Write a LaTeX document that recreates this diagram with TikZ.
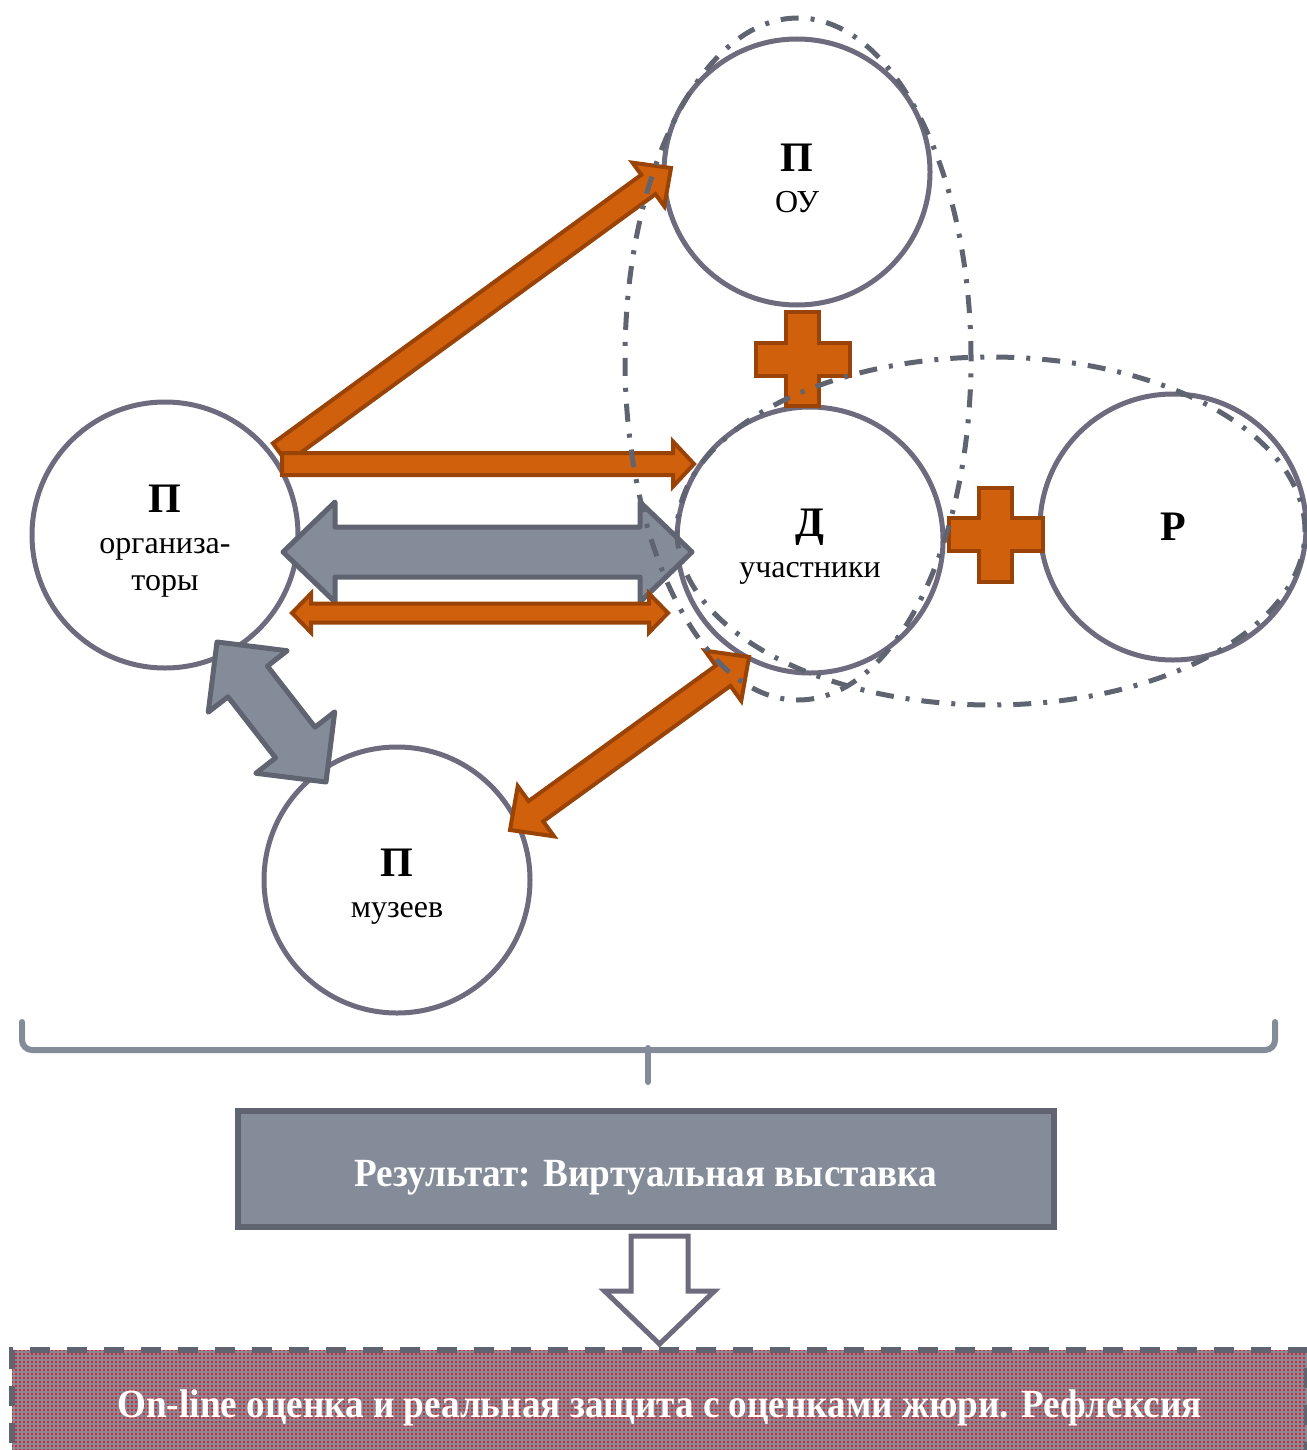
\documentclass[tikz,border=0pt]{standalone}
\usepackage{fontspec}
\setmainfont{Liberation Serif}
\usetikzlibrary{calc,patterns.meta}

\definecolor{circline}{HTML}{6E6B7E}
\definecolor{orfill}{HTML}{D0600C}
\definecolor{ordraw}{HTML}{9A4306}
\definecolor{grfill}{HTML}{848C9A}
\definecolor{grdraw}{HTML}{5F6470}

% big bold letter in a circle
\newcommand{\bigL}[1]{\rule{0pt}{20pt}{\fontsize{21}{24}\selectfont\bfseries #1}}
% fat arrow: style, from, to, half shaft, half head, head length
\newcommand{\fatarrow}[6]{%
  \draw[#1] ($(#2)!#4!90:(#3)$) -- ($(#3)!#6!(#2)!#4!-90:(#2)$) -- ($(#3)!#6!(#2)!#5!-90:(#2)$) -- (#3)
    -- ($(#3)!#6!(#2)!#5!90:(#2)$) -- ($(#3)!#6!(#2)!#4!90:(#2)$) -- ($(#2)!#4!-90:(#3)$) -- cycle;}
% fat double arrow: style, from, to, half shaft, half head, head length
\newcommand{\dblarrow}[6]{%
  \draw[#1] (#2) -- ($(#2)!#6!(#3)!#5!90:(#3)$) -- ($(#2)!#6!(#3)!#4!90:(#3)$)
    -- ($(#3)!#6!(#2)!#4!-90:(#2)$) -- ($(#3)!#6!(#2)!#5!-90:(#2)$) -- (#3)
    -- ($(#3)!#6!(#2)!#5!90:(#2)$) -- ($(#3)!#6!(#2)!#4!90:(#2)$)
    -- ($(#2)!#6!(#3)!#4!-90:(#3)$) -- ($(#2)!#6!(#3)!#5!-90:(#3)$) -- cycle;}
% plus sign
\newcommand{\plusmark}[1]{%
  \draw[plusst,shift={(#1)}] (-16.5,-47) -- (16.5,-47) -- (16.5,-16.5) -- (47,-16.5) -- (47,16.5) -- (16.5,16.5)
    -- (16.5,47) -- (-16.5,47) -- (-16.5,16.5) -- (-47,16.5) -- (-47,-16.5) -- (-16.5,-16.5) -- cycle;}

\begin{document}
\begin{tikzpicture}[x=0.5pt,y=-0.5pt,
    circ/.style={draw=circline,line width=2.5pt,circle,fill=white,minimum size=133pt,inner sep=0pt,
      align=center,font=\fontsize{16}{18.5}\selectfont},
    orarrow/.style={fill=orfill,draw=ordraw,line width=2pt},
    grarrow/.style={fill=grfill,draw=grdraw,line width=2.5pt,line join=round},
    outarrow/.style={fill=white,draw=circline,line width=2.5pt},
    plusst/.style={fill=orfill,draw=ordraw,line width=2pt},
    ring/.style={draw=grdraw,line width=2.5pt,dash pattern=on 9pt off 6pt on 2pt off 6pt},
    brace/.style={draw=grfill,line width=3pt,rounded corners=5pt,line cap=round},
    wtext/.style={text=white,font=\fontsize{20}{24}\selectfont\bfseries}]
  \useasboundingbox (0,0) rectangle (1306,1450);

  \node[circ] (org) at (165,535) {\bigL{П}\\[2pt]организа-\\торы};
  \node[circ] (ou) at (797,172) {\bigL{П}\\[2pt]ОУ};
  \node[circ] (uch) at (810,540) {\bigL{Д}\\[2pt]участники};
  \node[circ] (r) at (1173,527) {{\fontsize{21}{24}\selectfont\bfseries Р}};
  \node[circ] (mus) at (397,880) {\bigL{П}\\[2pt]музеев};

  % arrow ends
  \coordinate (a1s) at ($(org.center)+(115,-82)$);
  \coordinate (a1e) at ($(ou.center)+(-126,-4)$);
  \coordinate (a2s) at ($(org.center)+(117,-71)$);
  \coordinate (a2e) at ($(uch.center)+(-116,-76)$);
  \coordinate (a3s) at ($(org.center)+(118,17)$);
  \coordinate (a3e) at ($(uch.center)+(-118,12)$);
  \coordinate (a4s) at ($(org.center)+(127,78)$);
  \coordinate (a4e) at ($(uch.center)+(-142,73)$);
  \coordinate (a5s) at ($(org.center)+(52,107)$);
  \coordinate (a5e) at ($(mus.center)+(-71,-98)$);
  \coordinate (a6s) at ($(mus.center)+(113,-50)$);
  \coordinate (a6e) at ($(uch.center)+(-61,117)$);

  \fatarrow{orarrow}{a1s}{a1e}{6pt}{13.5pt}{14pt}
  \fatarrow{orarrow}{a2s}{a2e}{5.5pt}{11.25pt}{10.5pt}
  \dblarrow{grarrow}{a3s}{a3e}{12.5pt}{25pt}{26pt}
  \dblarrow{orarrow}{a4s}{a4e}{4.75pt}{9.75pt}{9.5pt}
  \dblarrow{grarrow}{a5s}{a5e}{12.5pt}{25pt}{25pt}
  \dblarrow{orarrow}{a6s}{a6e}{6.25pt}{15.5pt}{16pt}

  % plus signs
  \coordinate (plus1) at ($(ou.south)!0.5!(uch.north)+(-1,3)$);
  \coordinate (plus2) at ($(uch.east)!0.5!(r.west)+(4,1)$);
  \plusmark{plus1}
  \plusmark{plus2}

  % groups
  \draw[ring] (798,359) ellipse [x radius=86.5pt, y radius=170.5pt];
  \draw[ring] (991,531) ellipse [x radius=157pt, y radius=87pt];

  % brace
  \draw[brace] (22,1022) -- (22,1050) -- (1275,1050) -- (1275,1022);
  \draw[brace] (648,1048) -- (648,1082);

  \node[draw=grdraw,fill=grfill,line width=3pt,minimum width=408pt,minimum height=58pt,inner sep=0pt] (res) at (646,1169) {};
  \node[wtext] at ($(res.center)+(0,9)$) {\scalebox{0.93}[1]{Результат: Виртуальная выставка}};

  \node[draw=grdraw,line width=3pt,dash pattern=on 10pt off 8.5pt,preaction={fill=grfill},
    pattern={Dots[distance=2pt,radius=0.6pt]},pattern color=red,
    minimum width=647.5pt,minimum height=56pt,inner sep=0pt,anchor=north west] (final) at (9,1347) {};
  \node[wtext] at ($(final.north)+(0,61)$) {\scalebox{0.93}[1]{On-line оценка и реальная защита с оценками жюри. Рефлексия}};

  \coordinate (dn1) at ($(res.south -| final.north)+(0,6)$);
  \coordinate (dn2) at ($(final.north)+(0,-3)$);
  \fatarrow{outarrow}{dn1}{dn2}{14.25pt}{27.5pt}{26.5pt}
\end{tikzpicture}
\end{document}
